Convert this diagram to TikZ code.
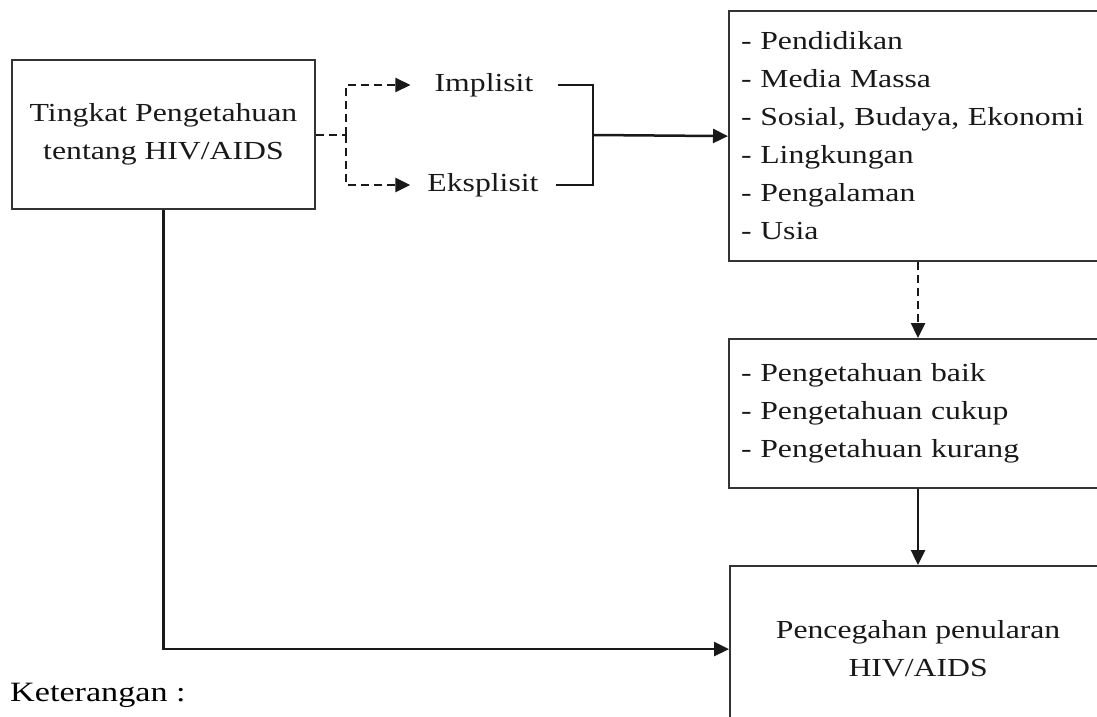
\documentclass[tikz,border=0pt]{standalone}
\usepackage{fontspec}
\setmainfont{Liberation Serif}[FakeStretch=1.22]
\usetikzlibrary{arrows.meta}
\begin{document}
\begin{tikzpicture}[x=1pt,y=-1pt,
  box/.style={draw=black!80, line width=2.2pt},
  conn/.style={line width=2.5pt, draw=black!90},
  tip/.style={-{Triangle[length=15pt,width=14pt]}},
  dashconn/.style={dash pattern=on 8pt off 5pt},
  txt/.style={font=\fontsize{26}{38}\selectfont, text=black!90}]
\useasboundingbox (0,0) rectangle (1097,717);
\clip (0,0) rectangle (1097,717);

\node[box, txt, align=center, minimum width=303pt, minimum height=149pt, inner sep=0pt]
  (b1) at (163.5,134.5) {Tingkat Pengetahuan\\tentang HIV/AIDS};

\node[txt, inner xsep=24pt] (impl) at (484,85) {Implisit};
\node[txt, inner xsep=17pt] (eks) at (483,185) {Eksplisit};

\node[box, txt, align=left, text width=390pt, inner xsep=12pt, minimum height=250pt, anchor=north west]
  (b2) at (728,10) {- Pendidikan\\- Media Massa\\- Sosial, Budaya, Ekonomi\\- Lingkungan\\- Pengalaman\\- Usia};

\node[box, txt, align=left, text width=390pt, inner xsep=12pt, minimum height=149pt, anchor=north west]
  (b3) at (728,338) {- Pengetahuan baik\\- Pengetahuan cukup\\- Pengetahuan kurang};

\node[box, txt, align=center, minimum width=376pt, minimum height=166pt, anchor=north west]
  (b4) at (729,565) {Pencegahan penularan\\HIV/AIDS};

\node[font=\fontsize{28}{34}\selectfont, anchor=west, inner sep=0pt] (ket) at (10,695) {Keterangan :};

\coordinate (split) at (346,135);
\coordinate (jn) at (593,135);
\coordinate (cx) at (918,0);

\draw[conn, dashconn] (b1.east |- split) -- (split);
\draw[conn, dashconn, tip] (split) |- (impl.west);
\draw[conn, dashconn, tip] (split) |- (eks.west);

\draw[conn] (impl.east) -| (jn);
\draw[conn] (eks.east) -| (jn);
\draw[conn, tip] (jn) -- (b2.west);

\draw[conn, dashconn, tip] (cx |- b2.south) -- (cx |- b3.north);
\draw[conn, tip] (cx |- b3.south) -- (cx |- b4.north);

\draw[conn, tip] (b1.south) |- (b4.west);
\end{tikzpicture}
\end{document}
